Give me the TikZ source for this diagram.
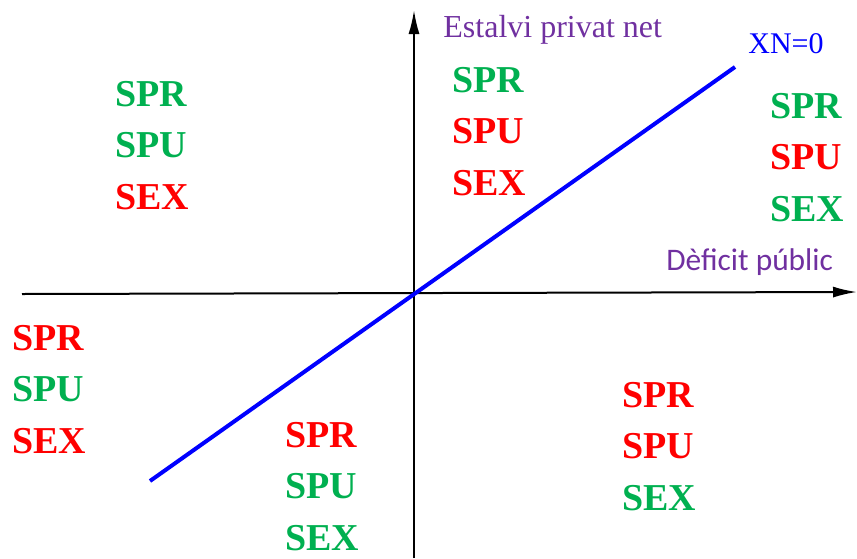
\documentclass[tikz,border=0pt]{standalone}
\usepackage{fontspec}
\setmainfont{Liberation Serif}
\newfontfamily\calfont{Carlito}
\usepackage{tikz}
\usetikzlibrary{arrows.meta}
\definecolor{vgreen}{RGB}{0,176,80}
\definecolor{vred}{RGB}{255,0,0}
\definecolor{vpurple}{RGB}{112,48,160}
\definecolor{vblue}{RGB}{0,0,255}
\tikzset{
  sector/.style={anchor=base west, inner sep=0pt, font=\bfseries\fontsize{19}{20}\selectfont},
  axis/.style={line width=1pt, -{Latex[length=12pt,width=5.5pt]}},
  axislabel/.style={anchor=base west, inner sep=0pt, text=vpurple}
}

\begin{document}
\begin{tikzpicture}[x=0.5pt,y=-0.5pt]
	\useasboundingbox (0,0) rectangle (857,558);
	% Define the axes
	\coordinate (xstart) at (22,294);
	\coordinate (xend) at (857,292);
	\coordinate (ystart) at (414,558);
	\coordinate (yend) at (414,10);
	\draw[axis] (xstart) -- (xend);
	\draw[axis] (ystart) -- (yend);
	% Axis labels
	\node[axislabel, font=\fontsize{16}{16}\selectfont] (estalvi) at (443,37) {Estalvi privat net};
	\node[axislabel, font=\calfont\fontsize{15.7}{16}\selectfont] (deficit) at (666,270) {Dèficit públic};
	% Line XN=0
	\coordinate (lstart) at (150,481);
	\coordinate (lend) at (735,67);
	\draw[vblue, line width=2pt] (lstart) -- (lend);
	\node[anchor=base west, inner sep=0pt, text=vblue, font=\fontsize{15}{15}\selectfont] (xn) at (748,53) {XN=0};
	% Add the sectors
	\foreach \n/\x/\y/\ca/\cb/\cc in {tl/115/106/vgreen/vgreen/vred,
		tm/452/92/vgreen/vred/vred,
		tr/770/118/vgreen/vred/vgreen,
		bl/12/350/vred/vgreen/vred,
		bm/285/447/vred/vgreen/vgreen,
		br/622/407/vred/vred/vgreen}{
		\node[sector, text=\ca] (\n-spr) at (\x,\y) {SPR};
		\node[sector, text=\cb] (\n-spu) at (\x,\y+51.5) {SPU};
		\node[sector, text=\cc] (\n-sex) at (\x,\y+103) {SEX};}
\end{tikzpicture}
\end{document}
